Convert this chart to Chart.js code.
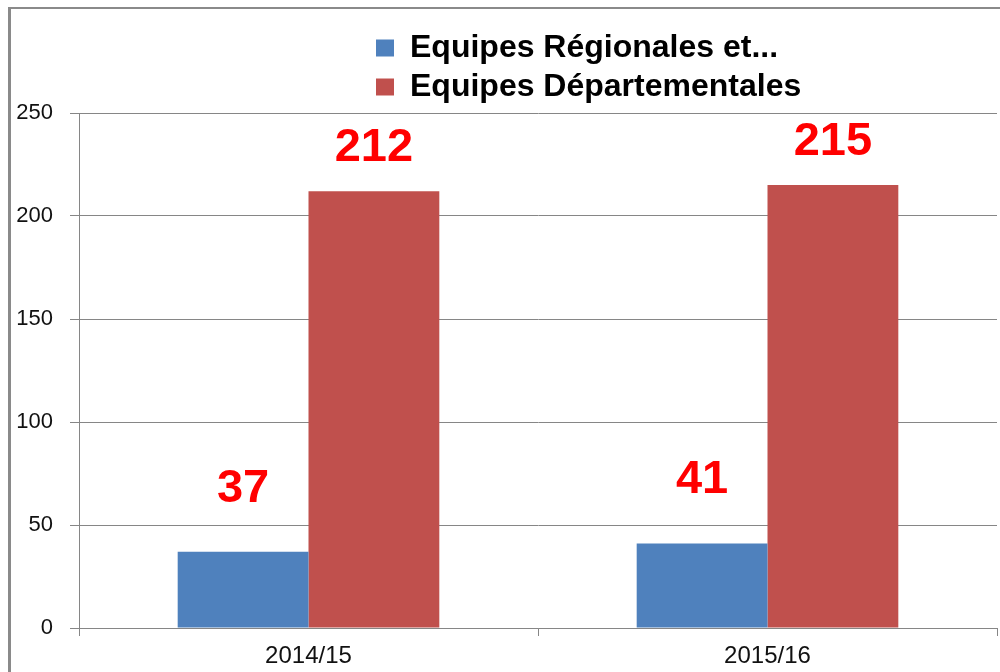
<!DOCTYPE html>
<html><head><meta charset="utf-8">
<script src="https://cdn.jsdelivr.net/npm/chart.js@4.4.1/dist/chart.umd.min.js"></script>
<style>html,body{margin:0;padding:0;background:#fff;overflow:hidden}#wrap{position:relative;width:1000px;height:672px}</style>
</head><body><div id="wrap"><canvas id="c"></canvas></div>
<script>
const categories = ['2014/15', '2015/16'];
const seriesNames = ['Equipes Régionales et...', 'Equipes Départementales'];
const regionales = [37, 41];
const departementales = [212, 215];
const yTickValues = [0, 50, 100, 150, 200, 250];

const FONT = "'Liberation Sans', Arial, sans-serif";
const GRID = '#868686';

const frame = {
  id: 'frame',
  afterDraw(chart) {
    const ctx = chart.ctx;
    ctx.save();
    ctx.fillStyle = '#8a8a8a';
    ctx.fillRect(8, 7, 992, 2);
    ctx.fillRect(8, 7, 3, 665);
    ctx.restore();
  }
};

const legendWrap = {
  id: 'legendWrap',
  afterInit(chart, args, opts) {
    const lg = chart.legend;
    if (!lg) return;
    const orig = lg.update.bind(lg);
    lg.update = (w, h, m) => orig(opts.maxWidth, h, m);
  },
  afterLayout(chart, args, opts) {
    if (chart.legend) chart.legend.left = opts.left;
  }
};

const valueLabels = {
  id: 'valueLabels',
  afterDatasetsDraw(chart, args, opts) {
    const ctx = chart.ctx;
    ctx.save();
    ctx.font = 'bold ' + opts.size + 'px ' + FONT;
    ctx.fillStyle = opts.color;
    ctx.textAlign = 'center';
    ctx.textBaseline = 'middle';
    chart.data.datasets.forEach((ds, i) => {
      const meta = chart.getDatasetMeta(i);
      meta.data.forEach((bar, j) => {
        ctx.fillText(String(ds.data[j]), bar.x, bar.y - opts.offsets[i]);
      });
    });
    ctx.restore();
  }
};

new Chart(document.getElementById('c'), {
  type: 'bar',
  data: {
    labels: categories,
    datasets: [
      { label: seriesNames[0], data: regionales, backgroundColor: '#4F81BD', borderWidth: 0 },
      { label: seriesNames[1], data: departementales, backgroundColor: '#C0504D', borderWidth: 0 }
    ]
  },
  options: {
    responsive: true,
    maintainAspectRatio: false,
    animation: false,
    layout: { padding: { top: 25, right: 3, left: 0, bottom: 0 } },
    datasets: { bar: { categoryPercentage: 0.57, barPercentage: 1.0 } },
    plugins: {
      tooltip: { enabled: false },
      legend: {
        position: 'top',
        align: 'start',
        labels: {
          font: { family: FONT, size: 32, weight: 'bold' },
          color: '#000',
          boxWidth: 18,
          boxHeight: 17,
          padding: 7
        }
      },
      legendWrap: { maxWidth: 450, left: 369 },
      valueLabels: { size: 47, color: '#FF0000', offsets: [63, 43] }
    },
    scales: {
      x: {
        afterFit(scale) { scale.height = 44; },
        grid: { offset: true, drawOnChartArea: false, drawTicks: true, tickLength: 8, color: GRID },
        border: { display: true, color: GRID },
        ticks: { font: { family: FONT, size: 24 }, color: '#111', padding: 6 }
      },
      y: {
        min: 0,
        max: 250,
        afterBuildTicks(scale) { scale.ticks = yTickValues.map(v => ({ value: v })); },
        afterFit(scale) { scale.width = 79; },
        grid: { color: GRID, tickLength: 9, drawTicks: true },
        border: { display: true, color: GRID },
        ticks: { font: { family: FONT, size: 22 }, color: '#111', padding: 17 }
      }
    }
  },
  plugins: [frame, legendWrap, valueLabels]
});
</script>
</body></html>
